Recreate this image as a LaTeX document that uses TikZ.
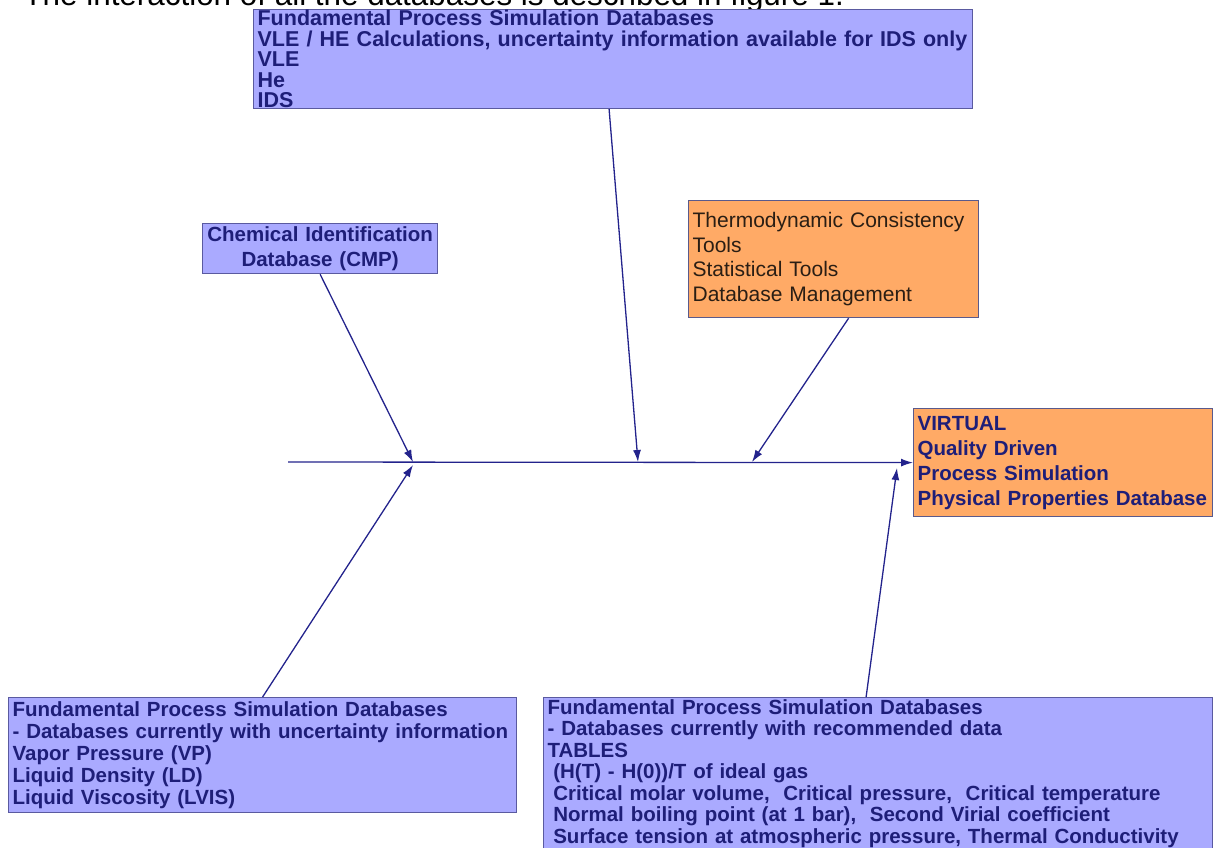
\documentclass[tikz,border=0pt]{standalone}
\usepackage{xcolor}
\usepackage{fontspec}
\setmainfont{Liberation Sans}
\usepackage{tikz}
\usetikzlibrary{arrows.meta, positioning, calc}

\definecolor{dbfill}{HTML}{AAAAFF}
\definecolor{dbedge}{HTML}{5A5AA0}
\definecolor{dbtext}{HTML}{1E1E78}
\definecolor{toolsfill}{HTML}{FFAA66}
\definecolor{toolsedge}{HTML}{5A5A8C}
\definecolor{toolstext}{HTML}{2A1E14}
\definecolor{linkcol}{HTML}{23238C}

\begin{document}
\begin{tikzpicture}[
    x=1pt, y=-1pt,
    dbbox/.style={draw=dbedge, fill=dbfill, text=dbtext, line width=1.2pt, anchor=north west, align=left, inner xsep=4pt, inner ysep=0pt},
    toolbox/.style={draw=toolsedge, fill=toolsfill, line width=1.2pt, anchor=north west, align=left, inner xsep=4pt, inner ysep=0pt},
    feed/.style={draw=linkcol, line width=1.3pt, -{Latex[length=12pt, width=8pt]}}
]
\clip (0,0) rectangle (1216,847);

\node[anchor=base west, font=\fontsize{31.4}{31.4}\selectfont] (title) at (20,5)
    {The interaction of all the databases is described in figure 1.};

\node[dbbox, text width=711pt, minimum height=99pt, font=\bfseries\fontsize{21.5}{20.6}\selectfont] (sim) at (253,9)
    {Fundamental Process Simulation Databases\\
     VLE / HE Calculations, uncertainty information available for IDS only\\
     VLE\\ He\\ IDS};
\node[dbbox, align=center, text width=227pt, minimum height=50pt, font=\bfseries\fontsize{20.5}{25}\selectfont] (cmp) at (202,223)
    {Chemical Identification\\ Database (CMP)};
\node[toolbox, text=toolstext, text width=282pt, minimum height=117pt, font=\fontsize{21}{24.5}\selectfont] (tools) at (688,200)
    {Thermodynamic Consistency\\ Tools\\ Statistical Tools\\ Database Management};
\node[toolbox, text=dbtext, text width=291pt, minimum height=108pt, font=\bfseries\fontsize{20.5}{25}\selectfont] (virtual) at (913,408)
    {VIRTUAL\\ Quality Driven\\ Process Simulation\\ Physical Properties Database};
\node[dbbox, text width=500pt, minimum height=115pt, font=\bfseries\fontsize{20.5}{22}\selectfont] (unc) at (8,697)
    {Fundamental Process Simulation Databases\\
     - Databases currently with uncertainty information\\
     Vapor Pressure (VP)\\ Liquid Density (LD)\\ Liquid Viscosity (LVIS)};
\node[dbbox, text width=661pt, minimum height=152pt, font=\bfseries\fontsize{20.5}{21.5}\selectfont] (rec) at (543,697)
    {Fundamental Process Simulation Databases\\
     - Databases currently with recommended data\\
     TABLES\\
     \hspace*{5.7pt}(H(T) - H(0))/T of ideal gas\\
     \hspace*{5.7pt}Critical molar volume,~ Critical pressure,~ Critical temperature\\
     \hspace*{5.7pt}Normal boiling point (at 1 bar),~ Second Virial coefficient\\
     \hspace*{5.7pt}Surface tension at atmospheric pressure, Thermal Conductivity};

\coordinate (tail) at (288,462);
\coordinate (jcmp) at (413,462);
\coordinate (jsim) at (638,462);
\coordinate (jtools) at (752,462);
\coordinate (junc) at (413,465);
\coordinate (jrec) at (897,468);

\draw[feed] (tail) -- (virtual.west);
\draw[feed] (cmp.south) -- (jcmp);
\draw[feed] ([xshift=-4pt]sim.south) -- (jsim);
\draw[feed] ([xshift=15pt]tools.south) -- (jtools);
\draw[feed] (unc.north) -- (junc);
\draw[feed] ([xshift=-12pt]rec.north) -- (jrec);
\end{tikzpicture}
\end{document}
